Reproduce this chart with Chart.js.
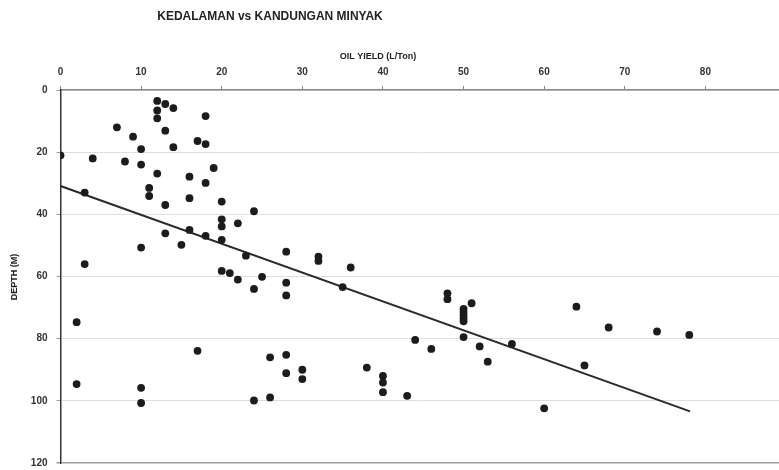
<!DOCTYPE html>
<html>
<head>
<meta charset="utf-8">
<script src="https://cdn.jsdelivr.net/npm/chart.js@4.4.0/dist/chart.umd.min.js"></script>
<style>
  html, body { margin: 0; padding: 0; background: #fff; overflow: hidden; }
  #wrap { position: absolute; left: 0; top: 0; width: 820px; height: 478px; }
</style>
</head>
<body>
<div id="wrap"><canvas id="c" width="820" height="478"></canvas></div>
<script>
// Oil yield (L/Ton) of each sample
const oilYield = [
  0, 4, 3, 3, 7, 9, 8, 10, 10, 12, 13, 14, 12, 12, 13, 14, 18, 17, 18, 19,
  12, 16, 18, 11, 11, 16, 13, 20, 20, 20, 22, 24, 13, 16, 18, 15, 10, 20, 23, 20,
  21, 22, 24, 2, 17, 2, 10, 10, 24, 28, 32, 32, 36, 25, 28, 28, 35, 48, 48, 44,
  46, 38, 40, 40, 40, 43, 26, 28, 28, 30, 30, 26, 51, 50, 50, 50, 50, 50, 50, 52,
  53, 56, 64, 65, 68, 74, 78, 60
];
// Sample depth (M)
const depth = [
  21, 22, 33, 56, 12, 15, 23, 19, 24, 3.5, 4.5, 5.8, 6.6, 9.1, 13.1, 18.4, 8.4, 16.4, 17.4, 25.1,
  26.9, 27.9, 29.9, 31.5, 34.1, 34.8, 37, 35.9, 41.6, 43.9, 42.9, 39, 46.1, 45, 46.9, 49.8, 50.7, 48.2, 53.3, 58.2,
  58.9, 61, 64, 74.7, 83.9, 94.6, 95.8, 100.7, 99.9, 52, 53.6, 55, 57.1, 60.1, 62, 66.1, 63.4, 65.4, 67.3, 80.4,
  83.3, 89.3, 92, 94.1, 97.2, 98.4, 86, 85.2, 91.1, 90, 93, 98.9, 68.6, 70.4, 71.4, 72.4, 73.4, 74.4, 79.5, 82.5,
  87.4, 81.7, 69.7, 88.6, 76.4, 77.7, 78.8, 102.4
];
// Linear trend line end points
const trendYield = [0, 78.1];
const trendDepth = [30.9, 103.4];

// Axis tick values
const yieldTicks = [0, 10, 20, 30, 40, 50, 60, 70, 80, 90];
const depthTicks = [0, 20, 40, 60, 80, 100, 120];

const chartTitle = 'KEDALAMAN vs KANDUNGAN MINYAK';
const xTitle = 'OIL YIELD (L/Ton)';
const yTitle = 'DEPTH (M)';

const samples = oilYield.map((x, i) => ({ x: x, y: depth[i] }));
const trend = trendYield.map((x, i) => ({ x: x, y: trendDepth[i] }));

const tickFont = { family: "'Liberation Sans Narrow', 'Liberation Sans', Arial, sans-serif", size: 10, weight: 'bold' };

// Free-standing headings drawn on the canvas
const headings = {
  id: 'headings',
  afterDraw(chart) {
    const ctx = chart.ctx;
    ctx.save();
    ctx.fillStyle = '#222';
    ctx.textAlign = 'center';
    ctx.textBaseline = 'middle';
    ctx.font = "bold 12px 'Liberation Sans', Arial, sans-serif";
    ctx.fillText(chartTitle, 270, 17);
    ctx.font = "bold 9px 'Liberation Sans', Arial, sans-serif";
    ctx.fillText(xTitle, 378, 57);
    ctx.translate(15, 277);
    ctx.rotate(-Math.PI / 2);
    ctx.fillText(yTitle, 0, 0);
    ctx.restore();
  }
};

new Chart(document.getElementById('c'), {
  type: 'scatter',
  data: {
    datasets: [
      {
        label: 'Samples',
        data: samples,
        pointRadius: 3.9,
        pointHoverRadius: 3.9,
        pointBackgroundColor: '#1c1c1c',
        pointBorderWidth: 0,
        showLine: false
      },
      {
        label: 'Trend',
        data: trend,
        showLine: true,
        borderColor: '#2a2a2a',
        borderWidth: 2,
        pointRadius: 0,
        fill: false
      }
    ]
  },
  options: {
    responsive: false,
    animation: false,
    layout: { padding: { left: 0, right: 34, top: 0, bottom: 7 } },
    plugins: {
      legend: { display: false },
      title: { display: false },
      tooltip: { enabled: false }
    },
    scales: {
      x: {
        type: 'linear',
        position: 'top',
        min: 0,
        max: 90,
        afterBuildTicks(scale) { scale.ticks = yieldTicks.map(v => ({ value: v })); },
        afterFit(scale) { scale.height = 90; },
        ticks: { font: tickFont, color: '#333', padding: 8, maxRotation: 0 },
        grid: { drawOnChartArea: false, tickLength: 4, tickColor: '#888', color: '#888' },
        border: { color: '#8a8a8a', width: 1.5 }
      },
      y: {
        type: 'linear',
        reverse: true,
        min: 0,
        max: 120,
        afterBuildTicks(scale) { scale.ticks = depthTicks.map(v => ({ value: v })); },
        afterFit(scale) { scale.width = 60.5; },
        ticks: { font: tickFont, color: '#333', padding: 9 },
        grid: {
          color: ctx => (ctx.tick && ctx.tick.value === 120) ? '#a0a0a0' : '#dedede',
          lineWidth: ctx => (ctx.tick && ctx.tick.value === 120) ? 1.5 : 1,
          tickLength: 4,
          tickColor: '#999'
        },
        border: { color: '#333', width: 1.5 }
      }
    }
  },
  plugins: [headings]
});
</script>
</body>
</html>
